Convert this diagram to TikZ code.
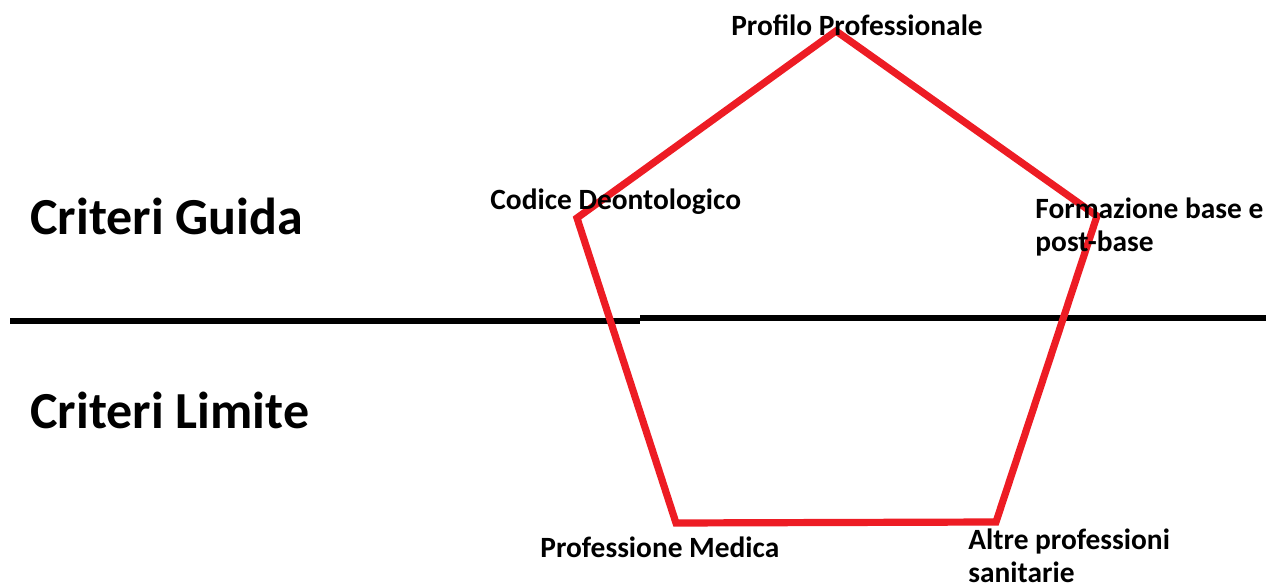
\documentclass[tikz,border=0pt]{standalone}
\usepackage{fontspec}
\setmainfont{Carlito}
\usepackage{tikz}

\definecolor{paintred}{RGB}{237,28,36}

\begin{document}
\begin{tikzpicture}[x=0.5pt,y=-0.5pt,
  vertex/.style={font=\bfseries\fontsize{14.7}{16.5}\selectfont, inner sep=0pt, align=left},
  area/.style={font=\bfseries\fontsize{26}{30}\selectfont, inner sep=0pt, anchor=west}]
  \useasboundingbox (0,0) rectangle (1266,588);
  % vertici del pentagono
  \coordinate (P) at (836,31) ;
  \coordinate (C) at (577,218) ;
  \coordinate (F) at (1097,216) ;
  \coordinate (M) at (676,523) ;
  \coordinate (A) at (996,522) ;
  % linea di separazione
  \coordinate (L1) at (10,321) ;
  \coordinate (L2) at (640,321) ;
  \coordinate (L3) at (640,318) ;
  \coordinate (L4) at (1266,318) ;
  \draw[line width=3pt] (L1) -- (L2) ;
  \draw[line width=3pt] (L3) -- (L4) ;
  \draw[paintred, line width=3.6pt, line join=miter] (P) -- (F) -- (A) -- (M) -- (C) -- cycle ;
  % etichette
  \node[vertex, anchor=center] (lP) at (857,25) {Profilo Professionale} ;
  \node[vertex, anchor=west] (lC) at (490,202) {Codice Deontologico} ;
  \node[vertex, anchor=west] (lF) at (1035,227) {Formazione base e\\post-base} ;
  \node[vertex, anchor=west] (lM) at (540,547) {Professione Medica} ;
  \node[vertex, anchor=west] (lA) at (968,556) {Altre professioni\\sanitarie} ;
  \node[area] (guida) at (30,216) {Criteri Guida} ;
  \node[area] (limite) at (30,410) {Criteri Limite} ;
\end{tikzpicture}
\end{document}
